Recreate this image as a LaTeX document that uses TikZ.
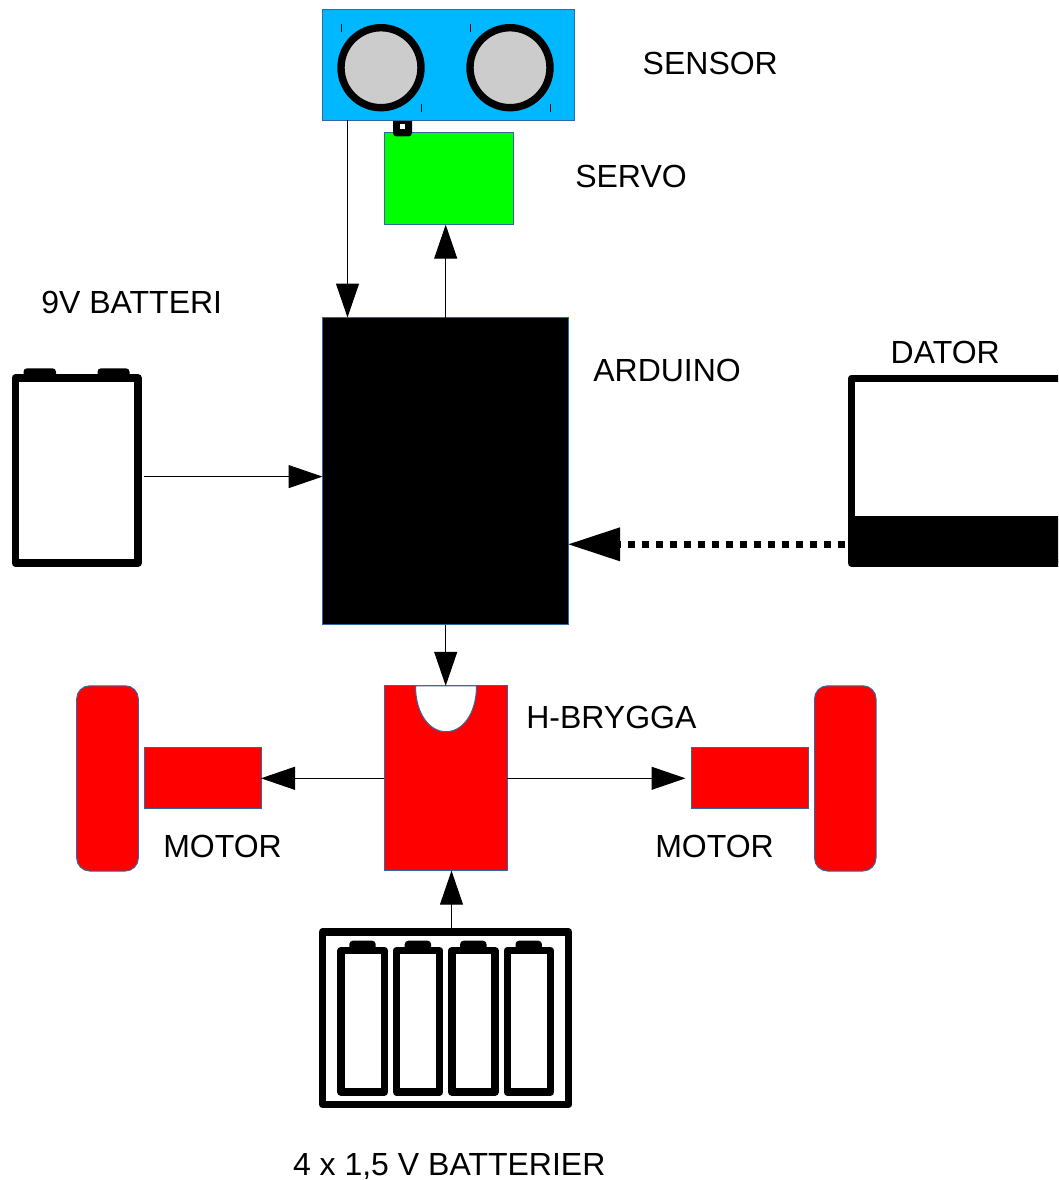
\documentclass[tikz,border=0pt]{standalone}
\usepackage{fontspec}
\setmainfont{Liberation Sans}
\usetikzlibrary{arrows.meta}
\definecolor{edgeblue}{HTML}{3465A4}
\definecolor{skyfill}{HTML}{00B8FF}
\definecolor{discgrey}{HTML}{CCCCCC}
\tikzset{
  shapebox/.style={draw=edgeblue,line width=1pt,outer sep=0pt,inner sep=0pt},
  outline/.style={draw=black,fill=white,line width=7.4pt,line join=round},
  capfill/.style={fill=black,rounded corners=3.5pt},
  label/.style={anchor=base west,inner sep=0pt,outer sep=0pt,text=black,font=\fontsize{32}{36}\selectfont},
  wire/.style={draw=black,line width=1pt,-{Triangle[length=34pt,width=23pt]}},
  usbwire/.style={draw=black,line width=7.4pt,dash pattern=on 7pt off 7pt},
  usbhead/.style={fill=black},
  tick/.style={draw=black,line width=1pt},
  disc/.style={circle,draw=black,fill=discgrey,line width=7.4pt,minimum size=80pt,inner sep=0pt,outer sep=0pt}
}
% name, style, x1, y1, x2, y2
\newcommand{\rectnode}[6]{\node[#2,minimum width={#5-#3},minimum height={#6-#4}] (#1) at ({(#3+#5)/2},{(#4+#6)/2}) {};}
\begin{document}
\begin{tikzpicture}[x=1pt,y=-1pt]
\useasboundingbox (0,0) rectangle (1058,1180);
\fill[white] (0,0) rectangle (1058,1180);
\clip (0,0) rectangle (1058,1180);

% servo, its horn, sensor
\rectnode{servo}{shapebox,fill=green}{384.1}{132.3}{513.4}{224.7}
\fill[capfill] (393,112) rectangle (412,136.5);
\fill[white] (400,124) rectangle (405,129);
\rectnode{sensor}{shapebox,fill=skyfill}{322.5}{9.5}{574.8}{120.5}
\node[disc] (discL) at (381,67.7) {};
\node[disc] (discR) at (510,67.7) {};
\draw[tick] (341.5,24) -- (341.5,32);
\draw[tick] (470.5,24) -- (470.5,32);
\draw[tick] (421.5,104.5) -- (421.5,112);
\draw[tick] (550.5,104.5) -- (550.5,112);

% arduino
\rectnode{arduino}{shapebox,fill=black}{322.5}{317.5}{568.5}{624.5}

% 9V battery
\fill[capfill] (23.5,368.3) rectangle (56,384);
\fill[capfill] (97.5,368.3) rectangle (129.5,384);
\rectnode{nine}{outline,inner sep=0pt,outer sep=0pt}{15.3}{378}{138}{563}

% laptop
\rectnode{laptop}{outline,inner sep=0pt,outer sep=0pt}{851.5}{378.5}{1070}{563}
\fill[black] (851.5,515.7) rectangle (1070,563);

% h-bridge
\rectnode{hbridge}{shapebox,fill=red}{384.1}{685.8}{507}{870.7}
\filldraw[fill=white,draw=edgeblue,line width=1pt] (415.5,685.8) .. controls (415.5,713) and (429,731.7) .. (446,731.7) .. controls (463,731.7) and (476.5,713) .. (476.5,685.8) -- cycle;

% motors and wheels
\rectnode{wheelL}{shapebox,fill=red,rounded corners=13pt}{76.7}{685.8}{138.3}{871}
\rectnode{motorL}{shapebox,fill=red}{144.3}{747.3}{261}{808.8}
\rectnode{motorR}{shapebox,fill=red}{691.5}{747.3}{808.2}{808.8}
\rectnode{wheelR}{shapebox,fill=red,rounded corners=13pt}{814.5}{685.8}{876}{871}

% battery pack
\rectnode{pack}{outline,inner sep=0pt,outer sep=0pt}{322.5}{932}{568.7}{1104.3}
\foreach \dx/\nm in {0/a,55.4/b,110.8/c,166.2/d}{
  \fill[capfill] ({349.3+\dx},940.7) rectangle ({375.7+\dx},952);
  \node[outline,inner sep=0pt,outer sep=0pt,minimum width=43.3pt,minimum height=141.4pt] (cell\nm) at ({362.65+\dx},1021.35) {};
}

% connectors
\coordinate (sensorx) at (347.5,0);
\coordinate (servox) at (445.7,0);
\coordinate (packx) at (451.5,0);
\coordinate (ninestart) at (144,476.6);
\coordinate (usby) at (0,544.3);
\coordinate (motory) at (0,778.3);
\coordinate (rightstop) at (685.5,0);
\draw[wire] (sensorx |- sensor.south) -- (sensorx |- arduino.north);
\draw[wire] (servox |- arduino.north) -- (servox |- servo.south);
\draw[wire] (ninestart) -- (ninestart -| arduino.west);
\draw[wire] (servox |- arduino.south) -- (servox |- hbridge.north);
\draw[wire] (motory -| hbridge.west) -- (motory -| motorL.east);
\draw[wire] (motory -| hbridge.east) -- (motory -| rightstop);
\draw[wire] (packx |- pack.north) -- (packx |- hbridge.south);
\coordinate (usbend) at (845,544.3);
\coordinate (usbbase) at (620,544.3);
\draw[usbwire] (usbend) -- (usbbase);
\fill[usbhead] (usbbase |- 0,527.3) -- (usby -| arduino.east) -- (usbbase |- 0,561.3) -- cycle;

% labels
\node[label] (tsensor) at (642.7,75) {SENSOR};
\node[label] (tservo) at (575.3,187.2) {SERVO};
\node[label] (tnine) at (41.3,313) {9V BATTERI};
\node[label] (tarduino) at (593.3,381.2) {ARDUINO};
\node[label] (tdator) at (890.7,363) {DATOR};
\node[label] (thbridge) at (526.3,728) {H-BRYGGA};
\node[label] (tmotorL) at (163.3,857.2) {MOTOR};
\node[label] (tmotorR) at (655.3,857.2) {MOTOR};
\node[label] (tpack) at (293,1175) {4 x 1,5 V BATTERIER};
\end{tikzpicture}
\end{document}
